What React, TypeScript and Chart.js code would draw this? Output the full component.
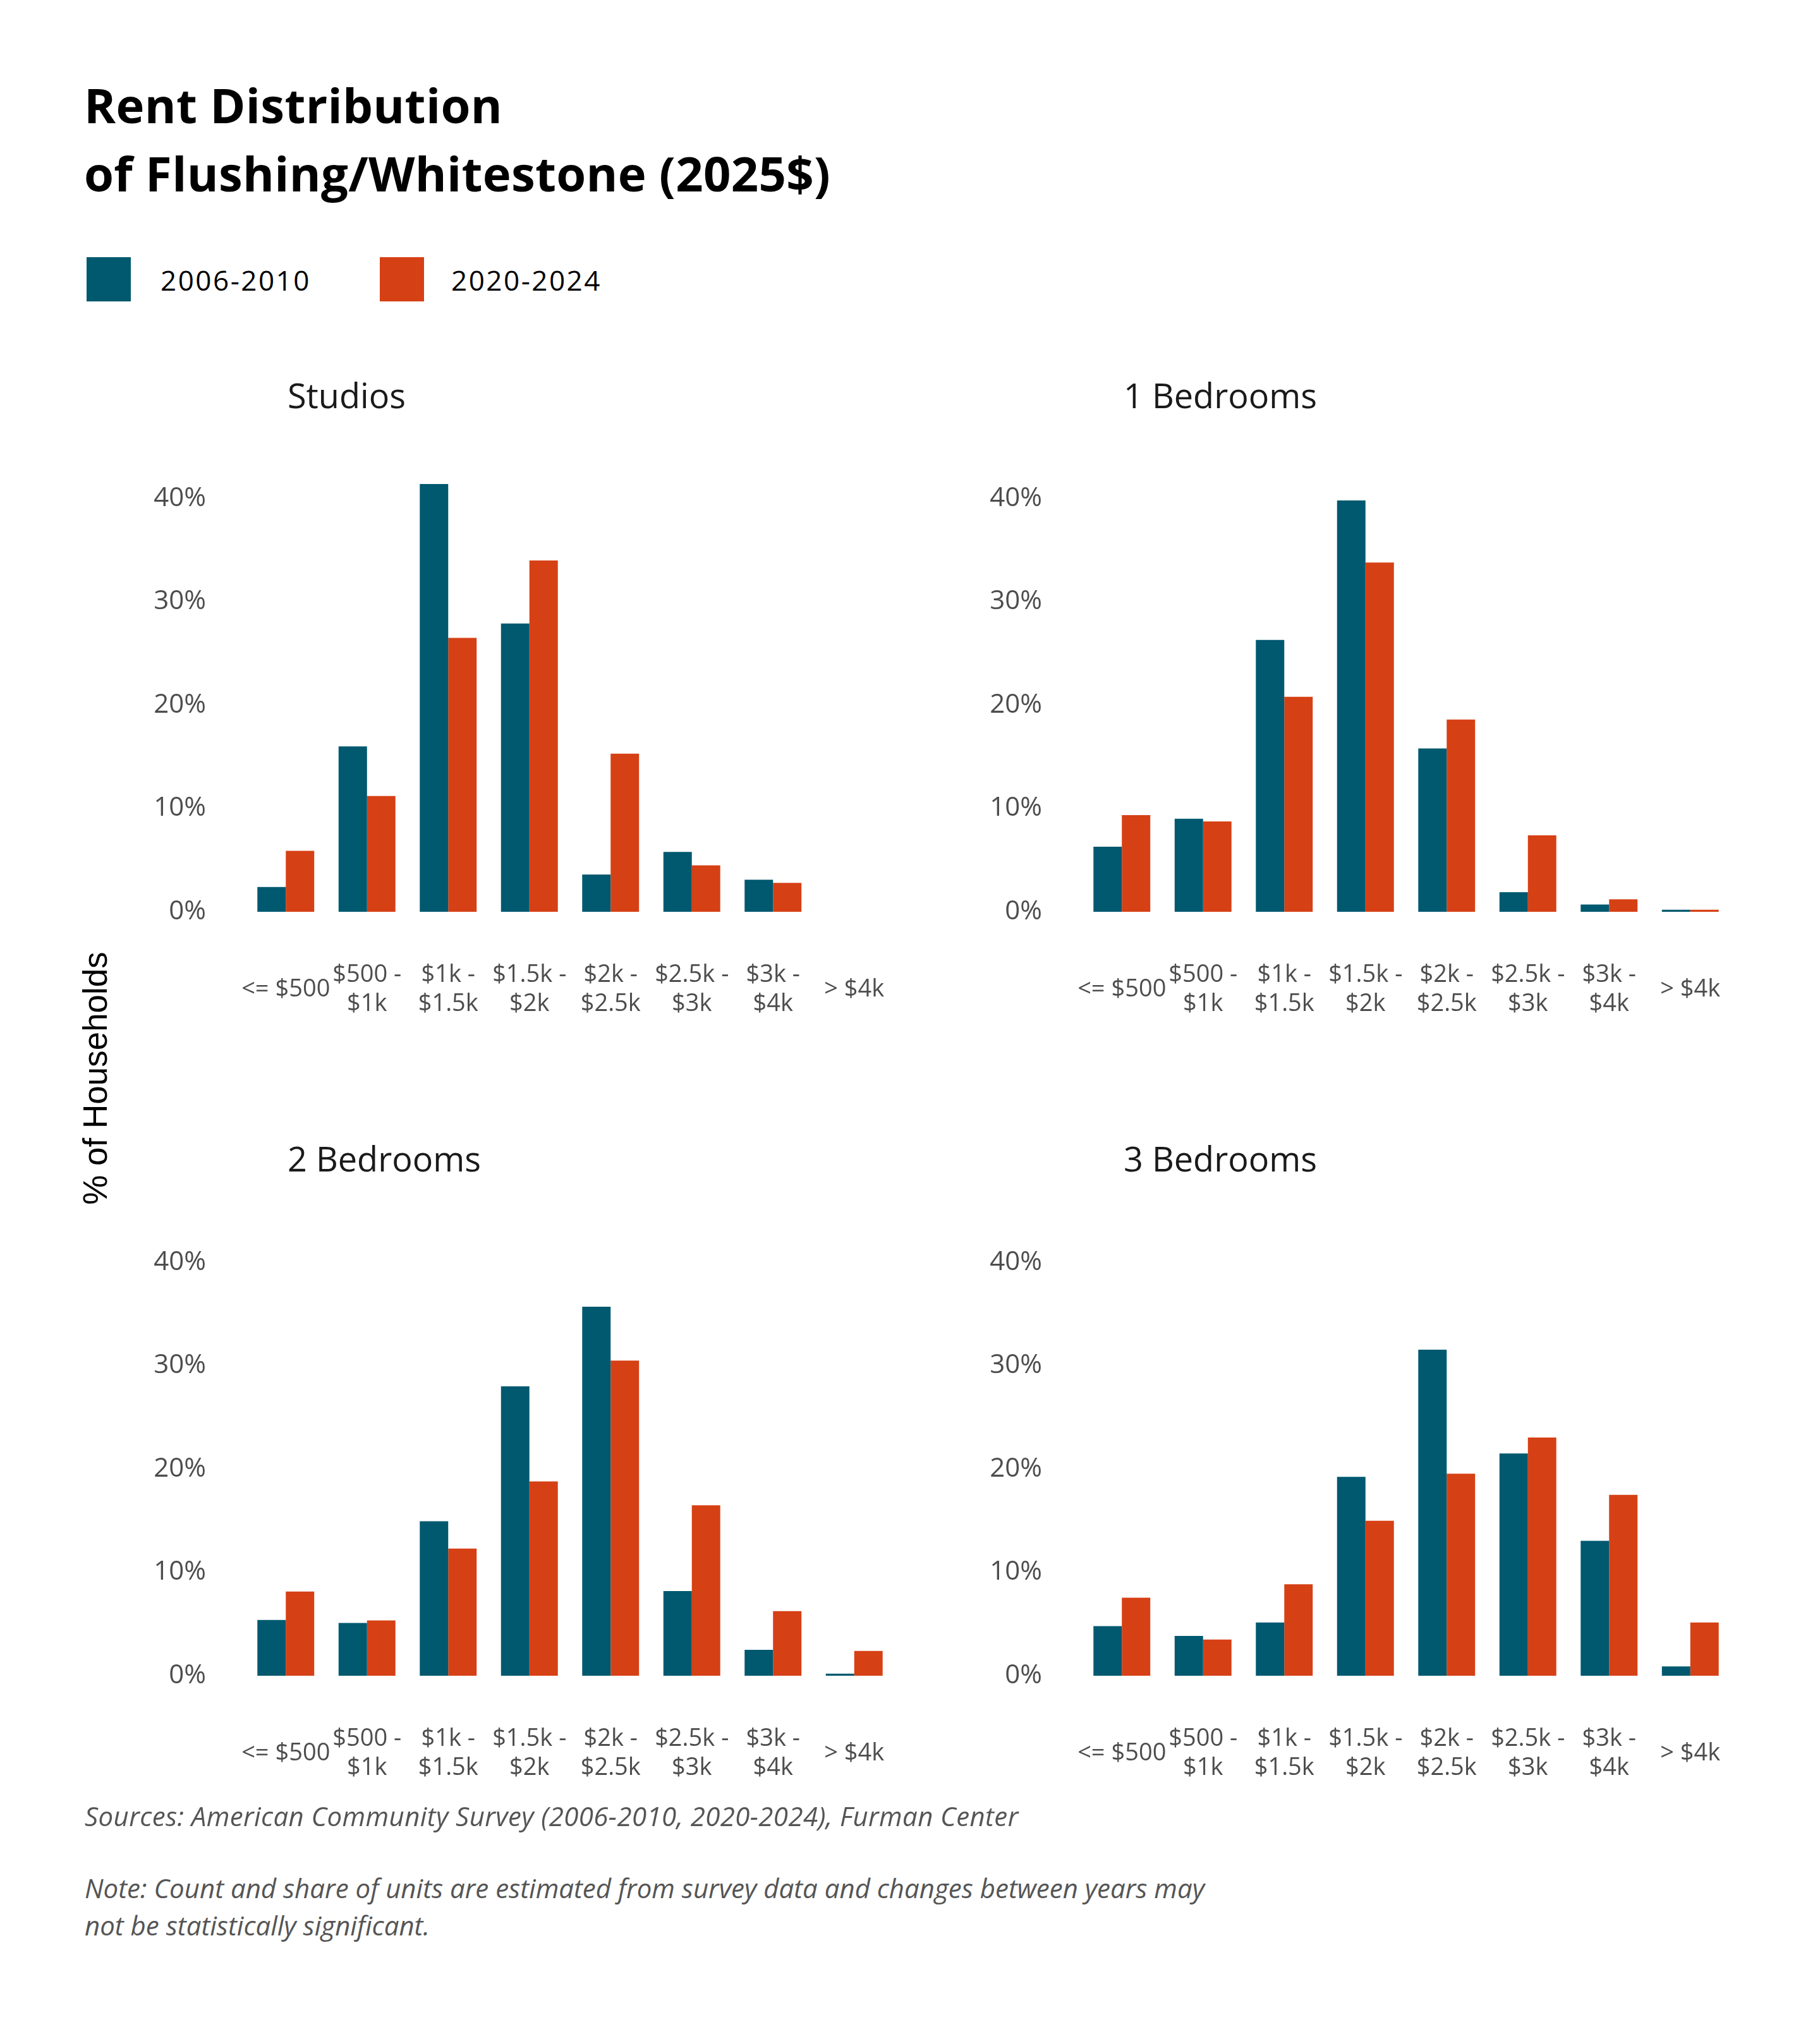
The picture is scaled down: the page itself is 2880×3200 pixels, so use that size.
import { useEffect, useRef } from "react";
import Chart from "chart.js/auto";

const SERIES = ["2006-2010", "2020-2024"];
const COLORS = ["#00596F", "#D64015"];

const TICK_LABELS: (string | string[])[] = [
  "<= $500",
  ["$500 -", "$1k"],
  ["$1k -", "$1.5k"],
  ["$1.5k -", "$2k"],
  ["$2k -", "$2.5k"],
  ["$2.5k -", "$3k"],
  ["$3k -", "$4k"],
  "> $4k",
];

const PANEL_TITLES = ["Studios", "1 Bedrooms", "2 Bedrooms", "3 Bedrooms"];

// % of households per rent band
const STUDIOS_2006 = [2.4, 16.0, 41.4, 27.9, 3.6, 5.8, 3.1, 0];
const STUDIOS_2020 = [5.9, 11.2, 26.5, 34.0, 15.3, 4.5, 2.8, 0];
const ONE_BR_2006 = [6.3, 9.0, 26.3, 39.8, 15.8, 1.9, 0.7, 0.2];
const ONE_BR_2020 = [9.35, 8.75, 20.8, 33.8, 18.6, 7.4, 1.2, 0.2];
const TWO_BR_2006 = [5.4, 5.1, 14.95, 28.0, 35.7, 8.2, 2.5, 0.2];
const TWO_BR_2020 = [8.15, 5.35, 12.3, 18.8, 30.5, 16.5, 6.25, 2.4];
const THREE_BR_2006 = [4.8, 3.85, 5.15, 19.25, 31.55, 21.5, 13.05, 0.9];
const THREE_BR_2020 = [7.55, 3.5, 8.85, 15.0, 19.55, 23.05, 17.5, 5.15];

const Y_TICKS = [0, 10, 20, 30, 40];

const FONT = "'Open Sans', sans-serif";
const TICK_COLOR = "#4d4d4d";

function Panel(props: { left: number; top: number; older: number[]; newer: number[] }) {
  const canvasRef = useRef<HTMLCanvasElement>(null);

  useEffect(() => {
    if (!canvasRef.current) return;
    const chart = new Chart(canvasRef.current, {
      type: "bar",
      data: {
        labels: TICK_LABELS,
        datasets: [
          { label: SERIES[0], data: props.older, backgroundColor: COLORS[0] },
          { label: SERIES[1], data: props.newer, backgroundColor: COLORS[1] },
        ],
      },
      options: {
        animation: false,
        responsive: true,
        maintainAspectRatio: false,
        layout: { padding: { top: 30, right: 24, bottom: 0, left: 0 } },
        datasets: { bar: { categoryPercentage: 0.7, barPercentage: 1 } },
        plugins: { legend: { display: false }, tooltip: { enabled: false } },
        scales: {
          x: {
            // grid hidden; tickLength only used to push the labels down
            grid: { display: false, drawTicks: true, tickLength: 100 },
            border: { display: false },
            ticks: {
              autoSkip: false,
              maxRotation: 0,
              padding: 0,
              crossAlign: "center",
              color: TICK_COLOR,
              font: { family: FONT, size: 38, lineHeight: 46 / 38 },
            },
            afterFit: (s: any) => {
              s.height = 197;
            },
          },
          y: {
            min: 0,
            max: 45,
            grid: { display: false, drawTicks: true, tickLength: 62 },
            border: { display: false },
            afterBuildTicks: (s: any) => {
              s.ticks = Y_TICKS.map((v) => ({ value: v }));
            },
            ticks: {
              padding: 0,
              color: TICK_COLOR,
              font: { family: FONT, size: 42 },
              callback: (v: any) => v + "%",
            },
            afterFit: (s: any) => {
              s.width = 188;
            },
          },
        },
      },
    });
    return () => chart.destroy();
  }, [props.older, props.newer]);

  return (
    <div style={{ position: "absolute", left: props.left, top: props.top, width: 1240, height: 963 }}>
      <canvas ref={canvasRef}></canvas>
    </div>
  );
}

const txt = (extra: React.CSSProperties): React.CSSProperties => ({
  position: "absolute",
  fontFamily: FONT,
  whiteSpace: "nowrap",
  margin: 0,
  ...extra,
});

export default function App() {
  const panelTitle = (t: string, left: number, top: number) => (
    <div style={txt({ left, top, fontSize: 54, lineHeight: "54px", color: "#1a1a1a" })}>{t}</div>
  );

  return (
    <div style={{ position: "absolute", left: 0, top: 0, width: 2880, height: 3200, background: "#fff", overflow: "hidden" }}>
      <div style={txt({ left: 133, top: 112, fontSize: 76, lineHeight: "108px", fontWeight: 700, letterSpacing: "0.3px", color: "#000" })}>
        Rent Distribution
        <br />
        of Flushing/Whitestone (2025$)
      </div>

      <div style={{ position: "absolute", left: 137, top: 407, width: 70, height: 70, background: COLORS[0] }} />
      <div style={txt({ left: 254, top: 421, fontSize: 44, lineHeight: "44px", letterSpacing: "2.5px", color: "#000" })}>
        {SERIES[0]}
      </div>
      <div style={{ position: "absolute", left: 601, top: 407, width: 70, height: 70, background: COLORS[1] }} />
      <div style={txt({ left: 714, top: 421, fontSize: 44, lineHeight: "44px", letterSpacing: "2.5px", color: "#000" })}>
        {SERIES[1]}
      </div>

      {panelTitle(PANEL_TITLES[0], 455, 598)}
      {panelTitle(PANEL_TITLES[1], 1778, 598)}
      {panelTitle(PANEL_TITLES[2], 455, 1806)}
      {panelTitle(PANEL_TITLES[3], 1778, 1806)}

      <Panel left={200} top={677} older={STUDIOS_2006} newer={STUDIOS_2020} />
      <Panel left={1523} top={677} older={ONE_BR_2006} newer={ONE_BR_2020} />
      <Panel left={200} top={1885.5} older={TWO_BR_2006} newer={TWO_BR_2020} />
      <Panel left={1523} top={1885.5} older={THREE_BR_2006} newer={THREE_BR_2020} />

      <div
        style={{
          position: "absolute",
          left: 150 - 300,
          top: 1706 - 26.5,
          width: 600,
          height: 53,
          lineHeight: "53px",
          fontSize: 53,
          textAlign: "center",
          fontFamily: "'Liberation Sans', Arial, sans-serif",
          color: "#000",
          transform: "rotate(-90deg)",
          whiteSpace: "nowrap",
        }}
      >
        % of Households
      </div>

      <div style={txt({ left: 134, top: 2853, fontSize: 42, lineHeight: "42px", letterSpacing: "0.4px", fontStyle: "italic", color: "#555" })}>
        Sources: American Community Survey (2006-2010, 2020-2024), Furman Center
      </div>
      <div style={txt({ left: 134, top: 2958, fontSize: 42, lineHeight: "59px", fontStyle: "italic", color: "#555" })}>
        Note: Count and share of units are estimated from survey data and changes between years may
        <br />
        not be statistically significant.
      </div>
    </div>
  );
}
